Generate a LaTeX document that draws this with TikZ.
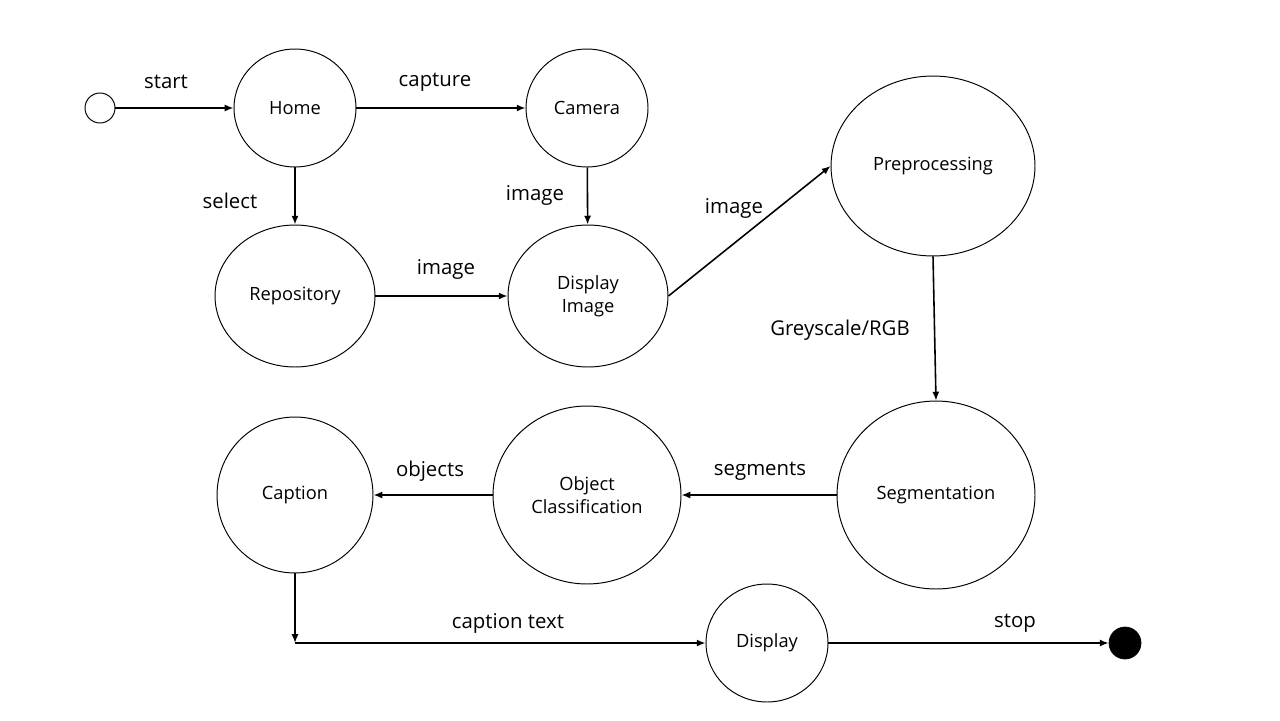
\documentclass[tikz,border=0pt]{standalone}
\usepackage{fontspec}
\setmainfont{Open Sans}
\usetikzlibrary{shapes.geometric,arrows.meta}

\begin{document}
\begin{tikzpicture}[x=0.02cm, y=-0.02cm,
    state/.style={draw, ellipse, line width=0.55pt, inner sep=0pt, align=center, font=\fontsize{10.4}{13}\selectfont},
    lbl/.style={font=\fontsize{11.6}{14}\selectfont},
    arr/.style={line width=0.9pt, -{Latex[length=5pt,width=4pt]}}]
    \useasboundingbox (0,0) rectangle (1280,720);

    % states
    \node[draw, circle, line width=0.55pt, inner sep=0pt, minimum size=0.6cm] (init) at (100,108) {};
    \node[state, minimum width=2.44cm, minimum height=2.36cm] (home) at (295,108) {Home};
    \node[state, minimum width=2.44cm, minimum height=2.36cm] (cam) at (587,108) {Camera};
    \node[state, minimum width=4.08cm, minimum height=3.6cm] (prep) at (933,166) {Preprocessing};
    \node[state, minimum width=3.2cm, minimum height=2.84cm] (repo) at (295,296) {Repository};
    \node[state, minimum width=3.2cm, minimum height=2.84cm] (dimg) at (588,296) {Display\\Image};
    \node[state, minimum width=3.96cm, minimum height=3.76cm] (seg) at (936,495) {Segmentation};
    \node[state, minimum width=3.76cm, minimum height=3.56cm] (objc) at (587,495) {Object\\Classification};
    \node[state, minimum width=3.12cm, minimum height=3.12cm] (capt) at (295,495) {Caption};
    \node[state, minimum width=2.44cm, minimum height=2.36cm] (disp) at (767,643) {Display};
    \node[draw, circle, fill=black, inner sep=0pt, minimum size=0.64cm] (final) at (1125,643) {};
    \coordinate (corner) at (295,643);

    % transitions
    \draw[arr] (init) -- (home);
    \draw[arr] (home) -- (cam);
    \draw[arr] (home) -- (repo);
    \draw[arr] (cam) -- (dimg);
    \draw[arr] (repo) -- (dimg);
    \draw[arr] (dimg.east) -- (prep.west);
    \draw[arr] (prep.south) -- (seg.north);
    \draw[arr] (seg) -- (objc);
    \draw[arr] (objc) -- (capt);
    \draw[arr] (capt.south) -- (corner);
    \draw[arr] (corner) -- (disp.west);
    \draw[arr] (disp) -- (final);

    % labels
    \node[lbl] (l-start) at (166,82) {start};
    \node[lbl] (l-capture) at (435,82) {capture};
    \node[lbl] (l-select) at (230,201) {select};
    \node[lbl] (l-cimg) at (535,195) {image};
    \node[lbl] (l-rimg) at (446,269) {image};
    \node[lbl] (l-dimg) at (734,208) {image};
    \node[lbl] (l-grey) at (840,330) {Greyscale/RGB};
    \node[lbl] (l-seg) at (760,471) {segments};
    \node[lbl] (l-obj) at (430,471) {objects};
    \node[lbl] (l-ctext) at (508,623) {caption text};
    \node[lbl] (l-stop) at (1015,623) {stop};
\end{tikzpicture}
\end{document}
